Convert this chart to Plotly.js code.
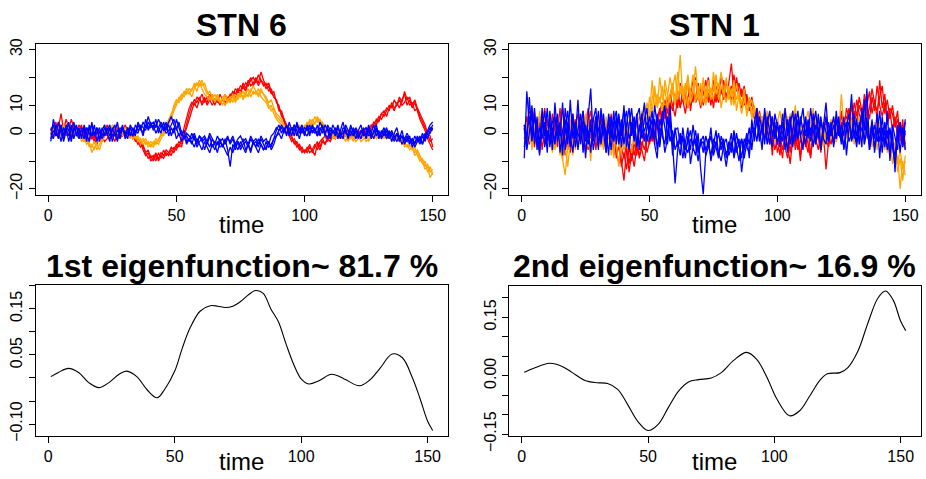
<!DOCTYPE html>
<html>
<head>
<meta charset="utf-8">
<script src="https://cdn.plot.ly/plotly-3.0.1.min.js"></script>
<style>html,body{margin:0;padding:0;background:#fff;}#chart{width:926px;height:479px;}</style>
</head>
<body>
<div id="chart"></div>
<script>
// ---------- DATA ----------
const time = Array.from({length: 150}, (_, i) => i + 1);

// STN 6
const stn6_red1 = [1,3,0,2,7,1,-1,3,0,2, -1,1,3,-2,0,2,-1,-3,1,0, -2,1,3,0,-1,2,1,-2,0,3, 1,-1,0,-3,-2,-4,-5,-7,-6,-9, -8,-10,-7,-9,-6,-8,-7,-5,-6,-4, -5,-2,2,6,9,11,10,13,12,11, 13,10,12,14,11,12,10,13,11,12, 14,13,16,15,17,16,18,17,19,20, 18,21,19,17,18,15,16,13,12,9, 7,4,2,0,-2,-3,-5,-4,-6,-7, -5,-7,-6,-4,-6,-3,-2,-4,-1,-2, 0,-1,1,-2,0,-1,-2,0,-1,1, 0,-1,1,0,2,1,3,5,4,7, 8,6,9,10,8,11,9,12,14,10, 12,9,11,8,5,3,1,-2,-4,-6];
const stn6_red2 = [0,2,4,-1,3,1,5,2,-1,1, 2,0,-2,1,-1,-3,0,-2,-4,-1, -3,-1,0,-2,1,-1,2,0,-1,1, 0,2,-1,-2,-4,-3,-6,-8,-7,-10, -9,-7,-10,-8,-9,-7,-8,-6,-7,-5, -3,-4,0,3,7,10,12,11,13,10, 12,11,14,12,10,13,11,12,14,12, 13,15,14,16,15,18,16,19,17,18, 20,17,19,18,16,17,14,15,11,10, 6,5,1,-1,-3,-2,-4,-6,-5,-7, -6,-4,-7,-5,-3,-5,-2,-1,-3,0, -2,0,-1,1,-2,0,1,-1,0,-2, 1,-1,0,2,1,3,2,4,6,5, 7,9,8,11,9,10,12,10,11,13, 10,11,8,9,6,4,2,0,-3,-2];
const stn6_red3 = [2,-1,1,4,2,0,3,1,5,2, 0,3,1,-1,2,0,-2,-1,-3,-2, -1,-3,-2,0,-1,-3,0,-2,1,-1, 2,0,-2,-1,-3,-5,-4,-7,-9,-8, -10,-8,-9,-7,-8,-6,-7,-8,-5,-6, -4,-5,-1,2,5,8,11,9,12,14, 11,13,12,10,12,11,14,12,10,13, 12,14,13,15,14,17,15,18,20,17, 19,18,22,19,17,18,15,13,12,8, 8,5,3,0,-1,-4,-3,-5,-7,-6, -7,-5,-6,-8,-4,-6,-3,-4,-2,-3, -1,-2,0,-1,1,-1,-2,0,1,-1, 0,1,-1,1,0,2,4,3,5,7, 6,8,10,9,12,10,13,11,15,12, 13,10,12,9,7,5,3,0,-1,-5];
const stn6_orange1 = [-1,2,1,-2,0,3,1,-1,2,0, 1,-2,0,-3,-1,-4,-5,-3,-6,-4, -2,0,-1,2,1,-1,3,1,0,2, 1,-1,0,-2,-1,-3,-2,-4,-3,-5, -3,-4,-2,-1,1,3,5,7,9,11, 12,14,13,15,14,16,17,15,18,16, 14,13,12,14,11,13,12,10,13,11, 12,14,11,13,15,12,14,16,13,15, 14,16,13,12,11,9,10,7,5,4, 3,2,0,1,-1,2,0,3,1,2, 4,2,5,3,6,4,2,3,1,0, -1,1,-2,0,-1,-3,0,-2,-1,-3, -2,0,-1,-3,-2,0,-1,1,-2,-1, 0,-2,-1,1,-1,-3,-2,-4,-3,-5, -4,-6,-5,-8,-10,-9,-12,-11,-14,-13];
const stn6_orange2 = [1,-2,0,2,-1,1,3,0,-2,1, -1,0,-3,-2,-4,-3,-7,-5,-4,-6, -3,-1,1,0,2,0,1,-1,2,0, -1,0,-2,-1,-3,-2,-4,-3,-5,-4, -5,-3,-4,-2,0,2,4,6,10,12, 11,13,15,14,16,15,18,17,19,17, 18,15,13,12,14,12,11,13,10,12, 11,13,12,14,13,15,13,14,16,14, 15,13,15,14,12,10,8,9,6,5, 4,3,1,2,0,1,-1,2,0,3, 2,5,3,6,4,5,3,1,2,-1, 0,-2,1,-1,-2,0,-3,-1,-2,0, -1,-3,-2,-1,0,-2,1,-1,0,-2, -1,1,-2,0,-2,-1,-3,-2,-5,-4, -6,-5,-8,-7,-9,-11,-10,-14,-12,-15];
const stn6_orange3 = [0,1,-1,3,1,-1,0,2,1,-1, 0,2,-1,-3,-2,-5,-4,-6,-3,-2, -1,1,0,-1,3,2,0,1,-1,1, 0,-2,1,-1,-2,-4,-3,-2,-4,-3, -4,-2,-3,0,-1,2,3,5,8,10, 13,12,14,16,15,13,16,18,17,19, 16,14,15,13,12,14,11,12,14,12, 13,11,14,12,14,13,15,13,15,17, 15,14,16,14,13,11,12,9,7,6, 5,2,3,0,2,-1,1,0,2,1, 3,4,2,4,5,3,4,2,0,1, -2,-1,0,-2,1,-1,-2,0,-3,-1, 0,-2,-1,0,-3,-1,0,-2,-1,0, -2,0,-1,-3,0,-2,-1,-3,-4,-2, -5,-4,-7,-6,-8,-10,-13,-12,-16,-14];
const stn6_blue1 = [-3,5,1,-2,3,-1,2,-3,1,4, -1,2,-2,3,0,-3,4,-1,2,-2, 1,3,-1,2,-3,1,4,-2,2,0, -2,3,1,-1,4,2,0,5,1,3, 2,5,0,3,1,4,-1,2,0,5, 2,-1,1,-3,-2,-4,-1,-5,-3,-2, -6,-3,-5,-2,-4,-7,-3,-5,-2,-6, -12,-4,-6,-3,-5,-2,-6,-4,-7,-3, -5,-2,-4,-6,-3,-5,-4,-2,-1,0, -2,1,3,0,2,-1,4,1,3,0, 2,-1,3,1,0,4,2,-1,3,1, 0,2,-2,1,4,0,-1,2,1,-2, 1,3,-1,0,2,-2,1,3,-1,0, 2,-1,1,-3,0,2,-2,1,-3,-1, -4,-2,-5,-3,-1,-4,0,-2,1,3];
const stn6_blue2 = [0,-2,3,1,-3,2,0,4,-2,1, 3,-1,1,-2,2,0,-1,3,-3,1, -2,0,2,-1,1,3,-2,0,2,-1, 1,-1,2,0,3,1,4,2,6,3, 4,2,5,3,1,2,4,6,3,1, 4,0,-2,-1,-3,0,-2,-4,-1,-3, -2,-4,-1,-5,-3,-4,-2,-5,-3,-1, -4,-2,-5,-3,-6,-4,-3,-5,-2,-4, -3,-5,-2,-4,-6,-3,-5,-2,1,3, 0,2,-1,4,1,3,-1,2,0,2, 1,3,0,2,-1,1,3,0,2,-1, 3,1,0,-2,2,1,-1,3,0,1, -1,0,2,-2,1,-1,0,2,-2,1, -1,1,-2,0,-1,-3,-1,-4,-2,-3, -1,-5,-3,-2,-4,-1,-3,0,2,1];
const stn6_blue3 = [-2,1,-1,4,0,-2,3,1,-3,2, 0,-2,2,1,-3,3,-1,0,2,-3, 2,-1,1,3,-1,0,-3,2,1,0, 2,0,-1,3,1,2,-1,3,2,4, 1,3,2,0,4,1,3,-1,2,-2, 0,-3,-1,-4,-2,-3,-5,-2,-4,-6, -3,-5,-7,-4,-6,-3,-5,-4,-6,-8, -5,-7,-4,-6,-3,-5,-7,-4,-6,-3, -5,-7,-4,-6,-5,-3,-6,-4,-1,1, 2,0,3,-1,2,1,3,0,2,-1, 3,0,2,1,-1,2,0,3,1,-2, 1,-1,2,0,-2,3,1,-1,2,0, -2,1,0,-1,3,0,-2,1,0,-1, 1,-2,0,-1,-3,0,-2,-1,-4,-2, -3,-2,-4,-1,-3,0,-2,1,0,2];
const stn6_blue4 = [1,3,-1,0,2,-3,1,-1,3,-2, 2,1,-1,2,-2,1,3,-1,0,2, -1,2,0,-3,2,-1,1,0,3,-2, 0,2,-1,1,0,3,2,1,4,2, 3,0,2,4,2,0,1,3,5,2, -1,1,-2,0,-1,-2,0,-3,-1,-2, -1,-3,0,-2,-4,-1,-3,-2,-4,-2, -3,-1,-4,-2,-1,-3,-2,-4,-1,-3, -2,-4,-1,-3,-2,-4,-1,0,2,1, 3,1,0,2,-1,3,1,-2,2,0, -1,2,1,0,3,-1,2,0,-2,2, 1,0,3,-1,0,2,-2,1,-1,2, 0,-2,1,2,-1,0,3,-1,1,-2, 0,2,-1,1,-2,0,-3,-1,-2,0, -2,-4,-1,-3,-2,-4,-1,1,3,4];

// STN 1
const stn1_red1 = [1,6,-4,3,8,-2,4,-6,2,5, -3,7,0,-5,4,9,-2,3,-7,1, 5,-4,2,8,-1,-6,3,0,6,-3, 2,-5,4,-2,7,-8,-3,1,-10,-17, -6,-11,-4,-8,-2,-9,-5,0,-7,-3, 1,-4,5,9,3,12,7,14,10,6, 13,9,16,11,20,8,15,12,18,10, 14,19,11,16,9,17,13,21,15,12, 18,25,14,19,12,16,10,14,8,11, 5,9,2,6,-1,3,-4,0,-6,-2, -8,1,-5,-9,-2,3,-6,-1,-10,2, -3,-7,1,-4,4,-2,-6,0,-13,-3, 2,-4,5,1,7,-1,4,9,3,11, 6,13,8,4,10,15,7,12,5,19, 9,14,3,8,1,6,-2,4,-5,0];
const stn1_red2 = [-2,3,8,-3,1,5,-5,2,9,-1, 4,-6,2,6,-3,1,-8,4,0,-4, 3,7,-2,1,-7,4,8,-1,2,-5, 6,0,-3,3,-6,2,-9,-4,-12,-7, -13,-5,-10,-3,-8,-1,-6,-10,-2,1, -3,4,2,8,11,5,13,8,17,11, 15,10,12,17,9,14,19,11,13,16, 10,15,20,12,17,11,16,14,19,13, 16,12,21,15,18,13,17,11,9,13, 7,3,8,1,4,-3,2,-5,1,-7, -3,-9,0,-4,-11,-2,1,-6,-3,0, -5,2,-8,-1,-4,1,-7,3,-2,-5, 0,5,-3,3,8,2,6,0,10,4, 12,7,3,14,9,5,13,8,17,10, 6,11,4,9,7,2,5,-1,3,-4];
const stn1_red3 = [3,-3,1,7,-5,2,6,0,-4,4, 1,-2,5,0,9,-4,1,-6,3,7, -4,0,6,-3,3,9,-2,5,-6,2, -3,4,-7,1,-4,3,-6,-11,-5,-9, -4,-14,-7,-12,-5,-8,-3,-6,-1,-4, 2,0,6,3,8,10,4,11,8,14, 9,18,12,7,13,16,11,20,14,9, 17,12,15,10,19,14,11,16,12,18, 13,17,11,20,14,9,15,10,12,6, 9,4,7,0,5,-2,3,-8,2,-4, 0,-6,-2,3,-7,-1,-4,2,-8,-3, 1,-4,-9,2,-2,-6,0,-3,4,-1, -4,2,6,-1,4,0,9,5,2,8, 4,10,7,12,6,9,16,11,8,13, 17,7,12,5,10,3,8,-3,5,-6];
const stn1_orange1 = [-4,2,7,-6,1,5,-3,4,8,-1, 3,-7,0,6,-4,-9,-15,-5,2,-8, 1,-3,6,-6,3,0,-10,4,-2,7, -5,2,-1,5,-8,3,-4,-12,0,-6, -2,4,-7,1,5,-3,8,3,11,6, 19,9,14,11,17,8,13,20,15,10, 16,28,12,18,9,15,21,11,17,13, 20,10,16,12,22,14,18,9,15,11, 17,13,19,8,14,10,16,6,11,7, 9,3,7,1,5,-2,6,2,-1,4, 8,1,5,-3,7,2,10,-1,4,0, 6,-2,3,9,0,5,-4,2,7,-1, 3,-3,5,0,14,2,-2,4,-1,6, 1,-4,3,7,-2,2,-5,1,-3,4, -1,-6,0,-9,-4,-12,-8,-20,-10,-15];
const stn1_orange2 = [2,-5,4,9,-2,3,-6,1,5,-3, 6,0,-4,3,-8,1,-5,-12,-3,2, -6,4,-2,1,7,-5,2,-3,5,-1, 3,-6,6,-2,1,-9,4,-3,-7,2, -5,-1,3,-4,7,2,5,10,4,13, 8,15,10,20,12,16,9,14,18,11, 22,14,17,10,19,13,16,24,12,18, 11,15,19,13,16,21,12,17,14,20, 12,16,10,18,13,7,12,9,13,5, 10,4,6,-1,3,8,1,4,-3,2, -1,5,9,2,6,-2,3,7,1,-3, 4,8,0,3,-2,6,1,-5,3,0, -2,4,1,6,-3,2,5,-1,3,-4, 2,6,-2,0,4,-3,1,-6,3,-1, -3,1,-7,-2,-11,-5,-14,-9,-17,-8];
const stn1_orange3 = [0,4,-3,2,6,-4,8,-2,3,1, -3,4,-6,1,2,-10,0,-4,5,-6, 2,-2,4,-5,0,5,-7,1,3,-2, -4,1,-2,4,-6,0,2,-5,1,-3, 1,-4,5,0,3,6,2,9,7,5, 12,17,9,13,8,19,14,11,16,21, 12,17,13,15,21,11,14,19,16,10, 17,13,18,15,12,19,16,22,13,17, 15,10,17,12,15,11,14,8,10,12, 6,8,3,6,0,4,7,-1,3,5, 2,-2,4,6,0,8,3,-1,5,2, -2,4,1,-3,6,2,-1,3,-4,1, 5,0,-3,2,-1,4,-2,0,5,-3, 0,3,-1,-4,2,1,-2,4,-6,0, -4,2,-5,-1,-7,-3,-11,-6,-13,-10];
const stn1_blue1 = [-9,15,3,10,-4,6,-7,2,8,-3, 5,-6,11,-1,4,-8,9,2,-5,7, -2,12,-4,3,-9,6,16,-3,4,-6, 9,0,-7,5,-2,8,-4,6,-1,10, -5,3,9,-2,7,-6,4,11,-3,2, 8,-4,-9,5,1,-7,-2,10,-5,-18, -6,-1,-9,-3,2,-11,-5,-8,0,-13, -22,-7,-2,-10,-4,1,-8,-3,-6,-12, -5,0,-9,-4,-2,-14,-6,-1,-9,5, -3,8,2,-6,9,1,-4,6,-2,4, -5,7,0,-7,3,8,-3,5,-1,-6, 6,-2,9,1,-4,7,-6,3,11,-1, 4,-5,8,0,-3,6,-8,2,14,-2, 5,-4,9,1,16,-6,3,-2,7,-9, 2,-5,8,-10,1,-14,3,-7,2,-6];
const stn1_blue2 = [3,-4,13,-2,6,0,-8,5,-1,9, -5,2,-3,7,-7,1,5,-4,12,-2, 4,-6,2,8,-3,1,-7,5,9,-4, 1,7,-3,2,-6,4,8,-2,5,-4, 3,9,-1,4,-5,2,7,-3,1,6, -2,10,3,-5,8,1,-4,6,-8,2, -5,0,-3,-9,-1,-6,3,-4,-10,-2, -7,-1,-5,2,-8,-4,0,-6,-2,-9, -3,-7,1,-5,-10,-2,-6,0,-4,3, -1,5,-3,2,7,-4,1,6,-2,3, 0,-3,9,-1,4,-5,2,-2,6,1, -4,3,-1,7,-3,2,-6,4,0,-3, 2,-4,5,-1,3,-6,1,4,-2,7, -1,3,-5,12,0,-4,5,-7,2,-3, 6,-4,1,-8,3,-2,-6,4,-3,5];
const stn1_blue3 = [-5,1,6,-3,9,-6,2,-2,4,-7, 8,0,-4,3,-1,11,-6,2,-3,6, -5,1,7,-7,3,-2,5,-6,0,8, -4,3,1,-8,6,-3,2,7,-5,4, 8,-2,1,6,-4,3,-1,5,9,-3, 1,5,-6,2,-1,-4,6,-3,1,-6, -3,-8,2,-5,-7,-2,-4,1,-6,-3, -1,-6,-4,-8,-2,-5,-9,-1,-4,-7, -6,-3,-8,0,-5,-2,-9,-4,2,-6, 4,9,-2,3,-4,6,0,-5,7,2, -2,4,-6,1,6,-3,3,8,-1,2, 5,-1,2,-5,3,0,6,-2,-4,4, -1,3,-2,6,-4,1,4,-3,0,5, -3,2,7,-4,1,-2,4,-5,0,8, -3,1,-6,2,-4,-11,-1,3,-5,1];
const stn1_blue4 = [2,-6,0,7,-2,3,-4,9,-5,1, -2,4,6,-3,2,-5,0,8,-1,-7, 3,0,-3,5,1,-4,2,-2,6,1, -3,5,-5,7,1,-2,6,-4,3,8, 0,-6,4,-3,6,9,-2,1,4,0, 5,-2,7,-4,3,10,-1,4,-3,1, 2,-4,-1,-6,-3,1,-5,-2,-7,-4, -3,-8,-5,-1,-6,-3,-7,-10,-4,-2, -8,-4,-1,-7,-3,-9,-2,-5,-7,0, 2,-3,6,1,-2,3,8,-1,4,-4, 3,0,-2,5,-4,1,7,-2,3,9, -1,5,-3,2,8,-2,4,0,6,-3, 1,6,-2,3,0,-5,2,7,-3,1, -5,4,1,-2,6,-6,-1,3,-3,2, -7,4,-2,1,-5,-8,0,2,-4,4];

// Eigenfunctions (time, value)
const ef1_t = [1,4,8,12,16,20,24,28,31,35,39,43,46,50,53,56,60,64,67,70,73,76,79,82,85,88,91,94,97,100,103,107,112,117,123,127,131,136,140,144,147,150,152];
const ef1_v = [0.003,0.012,0.021,0.012,-0.010,-0.021,-0.010,0.008,0.015,0.003,-0.025,-0.043,-0.025,0.015,0.065,0.108,0.145,0.157,0.156,0.153,0.156,0.166,0.180,0.190,0.184,0.150,0.122,0.074,0.030,-0.002,-0.013,-0.006,0.008,-0.002,-0.017,-0.005,0.020,0.052,0.044,0.000,-0.045,-0.094,-0.114];
const ef2_t = [1,5,11,16,20,25,30,34,38,42,46,50,54,58,62,66,70,75,79,84,89,93,97,101,106,110,114,118,121,126,129,133,137,141,144,147,150,152];
const ef2_v = [0.009,0.020,0.032,0.024,0.008,-0.012,-0.018,-0.020,-0.035,-0.075,-0.118,-0.141,-0.125,-0.082,-0.040,-0.016,-0.010,-0.006,0.008,0.040,0.060,0.042,-0.003,-0.060,-0.103,-0.090,-0.052,-0.012,0.005,0.008,0.020,0.062,0.135,0.200,0.218,0.195,0.140,0.116];

const titles = ["STN 6", "STN 1", "1st eigenfunction~ 81.7 %", "2nd eigenfunction~ 16.9 %"];
const xlabel = "time";

// ---------- STYLE / LAYOUT ----------
const RED = "#FF0000", ORANGE = "#FFA500", BLUE = "#0000FF";
const FONT = "Liberation Sans, Arial, Helvetica, sans-serif";
const W = 926, H = 479;

function lineTrace(x, y, color, xa, ya, width, shape) {
  return {x: x, y: y, type: "scatter", mode: "lines", xaxis: xa, yaxis: ya,
    line: {color: color, width: width, shape: shape || "linear"}, hoverinfo: "skip", showlegend: false};
}

const traces = [];
[[stn6_red1, stn6_red2, stn6_red3, RED], [stn6_orange1, stn6_orange2, stn6_orange3, ORANGE]].forEach(g => {
  for (let i = 0; i < 3; i++) traces.push(lineTrace(time, g[i], g[3], "x", "y", 1.3));
});
[stn6_blue1, stn6_blue2, stn6_blue3, stn6_blue4].forEach(s => traces.push(lineTrace(time, s, BLUE, "x", "y", 1.3)));
[[stn1_red1, stn1_red2, stn1_red3, RED], [stn1_orange1, stn1_orange2, stn1_orange3, ORANGE]].forEach(g => {
  for (let i = 0; i < 3; i++) traces.push(lineTrace(time, g[i], g[3], "x2", "y2", 1.3));
});
[stn1_blue1, stn1_blue2, stn1_blue3, stn1_blue4].forEach(s => traces.push(lineTrace(time, s, BLUE, "x2", "y2", 1.3)));
traces.push(lineTrace(ef1_t, ef1_v, "#000", "x3", "y3", 1.1, "spline"));
traces.push(lineTrace(ef2_t, ef2_v, "#000", "x4", "y4", 1.1, "spline"));

function px(a, b) { return [a / W, b / W]; }
function py(top, bottom) { return [1 - bottom / H, 1 - top / H]; }

const baseAxis = {
  showline: true, mirror: true, linecolor: "#000", linewidth: 1,
  ticks: "outside", ticklen: 6, tickwidth: 1, tickcolor: "#000",
  showgrid: false, zeroline: false, fixedrange: true,
  tickfont: {family: FONT, size: 16, color: "#000"}
};
function xa(dom, range, anchor) {
  return Object.assign({}, baseAxis, {domain: dom, range: range, anchor: anchor,
    tickmode: "array", tickvals: [0, 50, 100, 150], ticktext: ["0", "50", "100", "150"]});
}
function ya(dom, range, anchor, vals, text) {
  return Object.assign({}, baseAxis, {domain: dom, range: range, anchor: anchor, tickangle: -90,
    tickmode: "array", tickvals: vals, ticktext: text});
}

const topX = [-4.96, 155.96], botX = [-5.04, 158.04];
const layout = {
  width: W, height: H, margin: {l: 0, r: 0, t: 0, b: 0},
  paper_bgcolor: "#fff", plot_bgcolor: "#fff", showlegend: false,
  xaxis: xa(px(35.5, 448), topX, "y"),
  yaxis: ya(py(44, 194.5), [-22, 32], "x", [-20, -10, 0, 10, 20, 30], ["\u221220", "", "0", "10", "", "30"]),
  xaxis2: xa(px(509, 920.5), topX, "y2"),
  yaxis2: ya(py(44, 194.5), [-22, 32], "x2", [-20, -10, 0, 10, 20, 30], ["\u221220", "", "0", "10", "", "30"]),
  xaxis3: xa(px(35.5, 448), botX, "y3"),
  yaxis3: ya(py(285, 436), [-0.126, 0.202], "x3", [-0.10, -0.05, 0, 0.05, 0.10, 0.15, 0.20], ["\u22120.10", "", "", "0.05", "", "0.15", ""]),
  xaxis4: xa(px(509, 921), botX, "y4"),
  yaxis4: ya(py(285.5, 436), [-0.155, 0.232], "x4", [-0.15, -0.10, -0.05, 0, 0.05, 0.10, 0.15, 0.20], ["\u22120.15", "", "", "0.00", "", "", "0.15", ""]),
  annotations: []
};

function ann(text, cx, cy, size, bold) {
  return {text: bold ? "<b>" + text + "</b>" : text, xref: "paper", yref: "paper",
    x: cx / W, y: 1 - cy / H, xanchor: "center", yanchor: "middle", showarrow: false,
    font: {family: FONT, size: size, color: "#000"}};
}
layout.annotations.push(ann(titles[0], 241.7, 25, 32, true));
layout.annotations.push(ann(titles[1], 714.7, 25, 32, true));
layout.annotations.push(ann(titles[2], 241.7, 266, 32, true));
layout.annotations.push(ann(titles[3], 714.5, 266, 32, true));
layout.annotations.push(ann(xlabel, 241.7, 224, 24, false));
layout.annotations.push(ann(xlabel, 714.7, 224, 24, false));
layout.annotations.push(ann(xlabel, 241.7, 461, 24, false));
layout.annotations.push(ann(xlabel, 714.7, 461, 24, false));

Plotly.newPlot("chart", traces, layout, {staticPlot: true, displayModeBar: false});
</script>
</body>
</html>
